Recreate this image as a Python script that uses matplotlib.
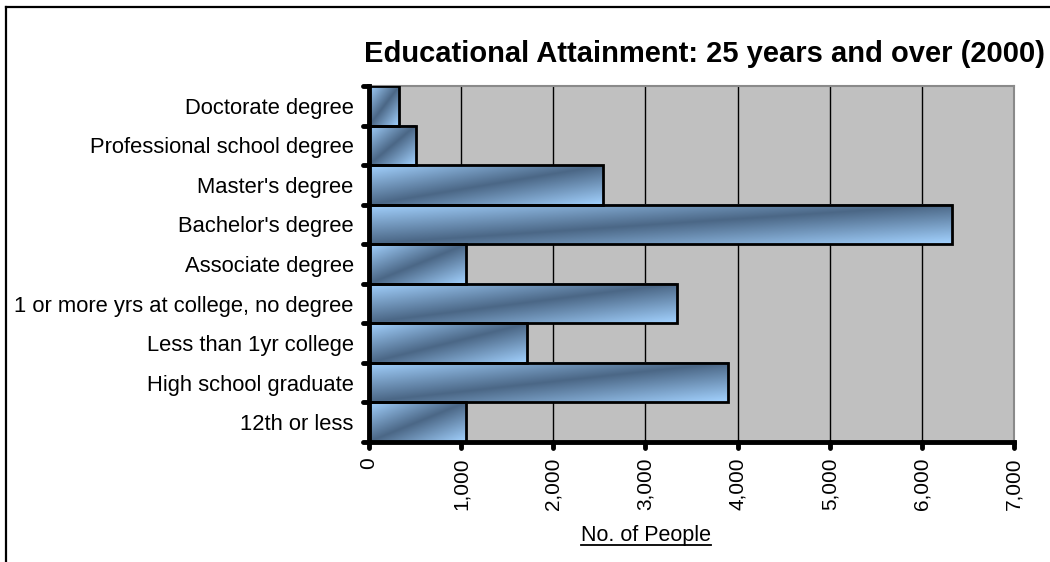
import matplotlib
matplotlib.use("Agg")
import matplotlib.pyplot as plt
import numpy as np
from matplotlib.colors import LinearSegmentedColormap
from matplotlib.lines import Line2D
from matplotlib.markers import MarkerStyle, TICKDOWN, TICKLEFT
from matplotlib.patches import Rectangle

# education levels, bottom to top
categories = ["12th or less", "High school graduate", "Less than 1yr college",
              "1 or more yrs at college, no degree", "Associate degree",
              "Bachelor's degree", "Master's degree", "Professional school degree",
              "Doctorate degree"]
people = [1050, 3900, 1720, 3340, 1050, 6330, 2540, 510, 325]
x_ticks = [0, 1000, 2000, 3000, 4000, 5000, 6000, 7000]

plt.rcParams["font.family"] = ["Liberation Sans", "DejaVu Sans"]

W, H = 1050, 562
fig = plt.figure(figsize=(W / 100, H / 100), dpi=100)
ax = fig.add_axes([369 / W, 1 - 442 / H, (1014 - 369) / W, (442 - 86) / H])
ax.set_facecolor("#c0c0c0")

# metallic blue fill, light -> dark -> light across the bar diagonal
metal = LinearSegmentedColormap.from_list("metal", ["#a3d2ff", "#4b6786", "#a3d2ff"])
uu, vv = np.meshgrid(np.linspace(0, 1, 240), np.linspace(0, 1, 60))
shade = (uu + vv) / 2

for i, val in enumerate(people):
    ax.imshow(shade, cmap=metal, vmin=0, vmax=1, origin="upper",
              extent=[0, val, i - 0.5, i + 0.5], aspect="auto",
              interpolation="bilinear", zorder=2)
    ax.add_patch(Rectangle((0, i - 0.5), val, 1, fill=False,
                           edgecolor="black", linewidth=2, zorder=3))

ax.set_xlim(0, 7000)
ax.set_ylim(-0.5, len(categories) - 0.5)
ax.set_aspect("auto")

ax.xaxis.grid(True, color="black", linewidth=1)
ax.set_axisbelow(True)

ax.set_xticks(x_ticks)
ax.set_xticklabels([f"{t:,}" for t in x_ticks], rotation=90, fontsize=15)
ax.tick_params(axis="x", length=4, width=3.5, pad=7, direction="out")

ax.set_yticks(range(len(categories)))
ax.set_yticklabels(categories, fontsize=15.8)
ax.set_yticks(np.arange(-0.5, len(categories), 1), minor=True)
ax.tick_params(axis="y", which="major", length=0, pad=11)
ax.tick_params(axis="y", which="minor", length=4, width=3.5, direction="out")

# rounded tick ends
for tick in ax.xaxis.get_major_ticks():
    tick.tick1line.set_marker(MarkerStyle(TICKDOWN, capstyle="round"))
for tick in ax.yaxis.get_minor_ticks():
    tick.tick1line.set_marker(MarkerStyle(TICKLEFT, capstyle="round"))

for side in ["left", "bottom"]:
    ax.spines[side].set_linewidth(3.5)
    ax.spines[side].set_color("black")
    ax.spines[side].set_zorder(4)
for side in ["right", "top"]:
    ax.spines[side].set_linewidth(1.5)
    ax.spines[side].set_color("#8a8a8a")

fig.text(704.5 / W, 1 - 62 / H, "Educational Attainment: 25 years and over (2000)",
         fontsize=21, fontweight="bold", ha="center", va="baseline")

xlab = fig.text(646 / W, 1 - 541 / H, "No. of People", fontsize=15.5,
                ha="center", va="baseline")

# underline the axis label
fig.canvas.draw()
bb = xlab.get_window_extent().transformed(fig.transFigure.inverted())
uy = 1 - 545 / H
fig.add_artist(Line2D([bb.x0, bb.x1], [uy, uy], color="black", linewidth=1.3))

# chart area border
fig.add_artist(Line2D([6 / W, 6 / W], [0, 1 - 7 / H], color="black", linewidth=1.6))
fig.add_artist(Line2D([6 / W, 1], [1 - 7 / H, 1 - 7 / H], color="black", linewidth=1.6))

fig.savefig("out.png", dpi=100)
